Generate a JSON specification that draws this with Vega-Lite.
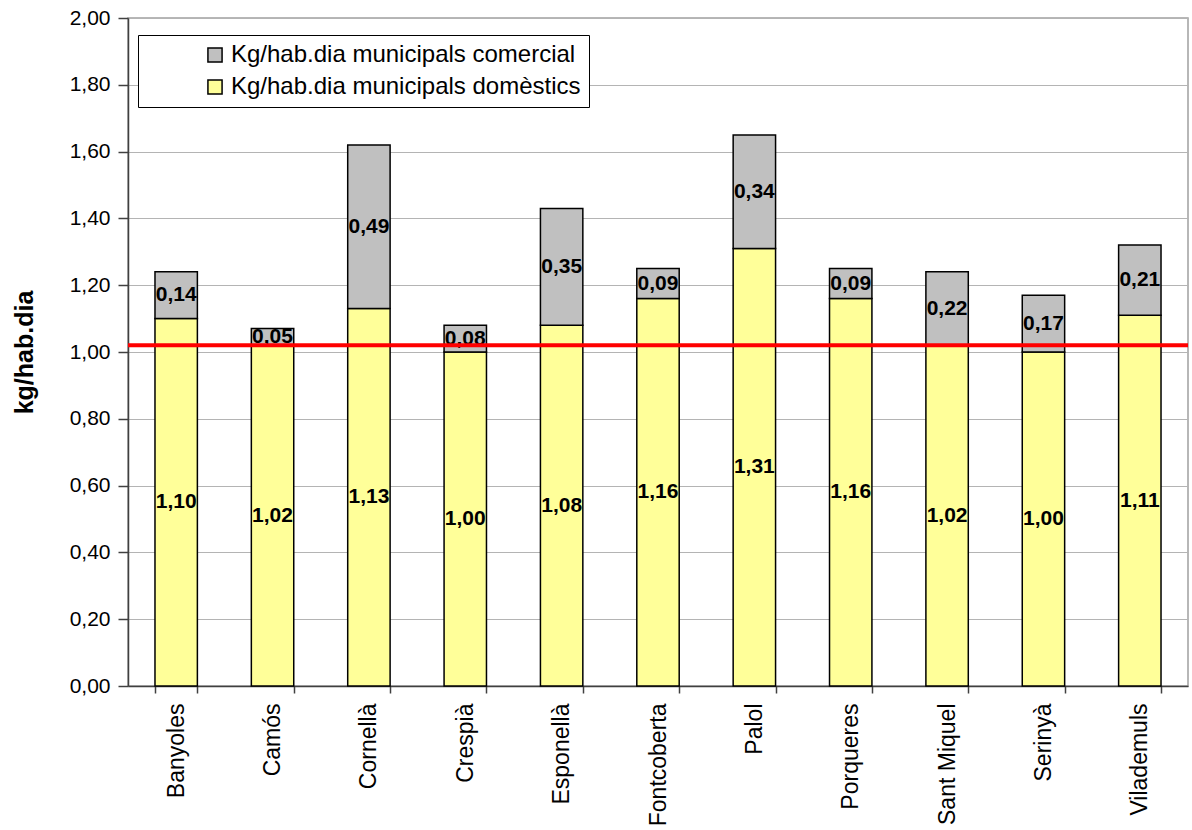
{
  "$schema": "https://vega.github.io/schema/vega-lite/v6.json",
  "autosize": {"type": "none"},
  "padding": {"left": 128, "top": 18, "right": 4, "bottom": 144},
  "width": 1060,
  "height": 668,
  "background": "white",
  "config": {
    "locale": {"number": {"decimal": ",", "thousands": ".", "grouping": [3], "currency": ["", " €"]}},
    "font": "Liberation Sans",
    "view": {"stroke": "#a0a0a0", "strokeWidth": 1.5},
    "axisY": {
      "title": "kg/hab.dia", "titleFontSize": 25, "titleFontWeight": "bold", "titleColor": "#000000",
      "titlePadding": 32, "format": ".2f", "labelOverlap": false,
      "labelFontSize": 21, "labelColor": "#000000", "labelPadding": 8,
      "tickSize": 10, "tickColor": "#404040", "tickWidth": 1.5,
      "domainColor": "#404040", "domainWidth": 1.5,
      "grid": true, "gridColor": "#b4b4b4", "gridWidth": 1
    }
  },
  "data": {
    "values": [
      {"municipi": "Banyoles", "serie": "Kg/hab.dia municipals domèstics", "valor": 1.10},
      {"municipi": "Banyoles", "serie": "Kg/hab.dia municipals comercial", "valor": 0.14},
      {"municipi": "Camós", "serie": "Kg/hab.dia municipals domèstics", "valor": 1.02},
      {"municipi": "Camós", "serie": "Kg/hab.dia municipals comercial", "valor": 0.05},
      {"municipi": "Cornellà", "serie": "Kg/hab.dia municipals domèstics", "valor": 1.13},
      {"municipi": "Cornellà", "serie": "Kg/hab.dia municipals comercial", "valor": 0.49},
      {"municipi": "Crespià", "serie": "Kg/hab.dia municipals domèstics", "valor": 1.00},
      {"municipi": "Crespià", "serie": "Kg/hab.dia municipals comercial", "valor": 0.08},
      {"municipi": "Esponellà", "serie": "Kg/hab.dia municipals domèstics", "valor": 1.08},
      {"municipi": "Esponellà", "serie": "Kg/hab.dia municipals comercial", "valor": 0.35},
      {"municipi": "Fontcoberta", "serie": "Kg/hab.dia municipals domèstics", "valor": 1.16},
      {"municipi": "Fontcoberta", "serie": "Kg/hab.dia municipals comercial", "valor": 0.09},
      {"municipi": "Palol", "serie": "Kg/hab.dia municipals domèstics", "valor": 1.31},
      {"municipi": "Palol", "serie": "Kg/hab.dia municipals comercial", "valor": 0.34},
      {"municipi": "Porqueres", "serie": "Kg/hab.dia municipals domèstics", "valor": 1.16},
      {"municipi": "Porqueres", "serie": "Kg/hab.dia municipals comercial", "valor": 0.09},
      {"municipi": "Sant Miquel", "serie": "Kg/hab.dia municipals domèstics", "valor": 1.02},
      {"municipi": "Sant Miquel", "serie": "Kg/hab.dia municipals comercial", "valor": 0.22},
      {"municipi": "Serinyà", "serie": "Kg/hab.dia municipals domèstics", "valor": 1.00},
      {"municipi": "Serinyà", "serie": "Kg/hab.dia municipals comercial", "valor": 0.17},
      {"municipi": "Vilademuls", "serie": "Kg/hab.dia municipals domèstics", "valor": 1.11},
      {"municipi": "Vilademuls", "serie": "Kg/hab.dia municipals comercial", "valor": 0.21}
    ]
  },
  "layer": [
    {
      "mark": {"type": "bar", "stroke": "#000000", "strokeWidth": 1.5},
      "encoding": {
        "x": {
          "field": "municipi", "type": "nominal", "sort": null,
          "scale": {"paddingInner": 0.56, "paddingOuter": 0.28},
          "axis": {
            "title": null, "labelAngle": 270, "labelAlign": "right", "labelBaseline": "middle",
            "labelFontSize": 23, "labelColor": "#000000", "labelPadding": 10,
            "tickBand": "extent", "tickSize": 7, "tickColor": "#404040", "tickWidth": 1.5,
            "domainColor": "#404040", "domainWidth": 1.5, "labelLimit": 200
          }
        },
        "y": {
          "field": "valor", "type": "quantitative", "stack": "zero",
          "scale": {"domain": [0, 2]},
          "axis": {"title": "kg/hab.dia", "values": [0, 0.2, 0.4, 0.6, 0.8, 1.0, 1.2, 1.4, 1.6, 1.8, 2.0]}
        },
        "color": {
          "field": "serie", "type": "nominal",
          "scale": {
            "domain": ["Kg/hab.dia municipals comercial", "Kg/hab.dia municipals domèstics"],
            "range": ["#c0c0c0", "#ffff99"]
          },
          "legend": {
            "title": null,
            "orient": "none", "legendX": 10, "legendY": 17,
            "direction": "vertical",
            "symbolType": "square", "symbolSize": 200, "symbolStrokeColor": "#000000", "symbolStrokeWidth": 1.5,
            "symbolOffset": 57,
            "labelFontSize": 24, "labelColor": "#000000", "labelOffset": 4, "labelLimit": 700,
            "rowPadding": 8, "padding": 8,
            "strokeColor": "#000000", "fillColor": "#ffffff"
          }
        },
        "order": {"field": "serie", "sort": "descending"}
      }
    },
    {
      "mark": {"type": "text", "fontSize": 21, "fontWeight": "bold", "color": "#000000", "baseline": "middle"},
      "encoding": {
        "x": {"field": "municipi", "type": "nominal", "sort": null},
        "y": {"field": "valor", "type": "quantitative", "stack": "zero", "bandPosition": 0.5,
              "axis": {"title": "kg/hab.dia", "values": [0, 0.2, 0.4, 0.6, 0.8, 1.0, 1.2, 1.4, 1.6, 1.8, 2.0]}},
        "text": {"field": "valor", "type": "quantitative", "format": ".2f"},
        "order": {"field": "serie", "sort": "descending"}
      }
    },
    {
      "data": {"values": [{"llindar": 1.02}]},
      "mark": {"type": "rule", "color": "#ff0000", "strokeWidth": 4},
      "encoding": {
        "y": {"field": "llindar", "type": "quantitative",
              "axis": {"title": "kg/hab.dia", "values": [0, 0.2, 0.4, 0.6, 0.8, 1.0, 1.2, 1.4, 1.6, 1.8, 2.0]}}
      }
    }
  ]
}
